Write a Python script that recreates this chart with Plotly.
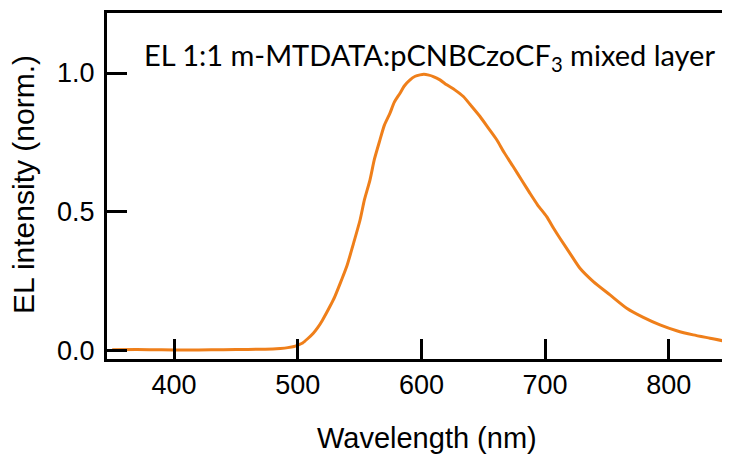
import plotly.graph_objects as go

# Wavelength (nm) and normalised EL intensity
wavelength = [350, 370, 390, 410, 430, 450, 470, 480, 486, 492, 497, 500, 504, 508, 512.6, 516,
              520, 526, 530, 535, 539.6, 545, 550.4, 554, 558.4, 562, 566.5, 570, 574.6,
              578, 582.7, 586, 590.8, 595, 598.9, 602, 606, 609.6, 615, 620.5, 627,
              633.9, 640, 647.4, 654, 660.9, 667, 674.3, 681, 687.8, 694, 701.3, 707,
              712, 720.1, 728.2, 739, 752.5, 766, 779.4, 792.9, 806.4, 819.8, 833.3,
              848, 850]
intensity = [0.003, 0.004, 0.003, 0.002, 0.003, 0.004, 0.005, 0.006, 0.008, 0.011, 0.015, 0.02,
             0.028, 0.043, 0.063, 0.082, 0.110, 0.159, 0.195, 0.250, 0.303, 0.385, 0.471,
             0.545, 0.615, 0.690, 0.760, 0.812, 0.856, 0.895, 0.928, 0.953, 0.976, 0.989,
             0.994, 0.996, 0.993, 0.988, 0.976, 0.958, 0.940, 0.916, 0.884, 0.844, 0.803,
             0.760, 0.713, 0.663, 0.615, 0.567, 0.525, 0.483, 0.440, 0.405, 0.351,
             0.297, 0.249, 0.201, 0.153, 0.120, 0.093, 0.072, 0.057, 0.045, 0.032, 0.031]

x_ticks = [400, 500, 600, 700, 800]
y_ticks = [0.0, 0.5, 1.0]
y_tick_labels = ["0.0", "0.5", "1.0"]

title_text = "EL 1:1 m-MTDATA:pCNBCzoCF<sub>3</sub> mixed layer"
x_title = "Wavelength (nm)"
y_title = "EL intensity (norm.)"

fig = go.Figure(go.Scatter(x=wavelength, y=intensity, mode="lines",
                           line=dict(color="#EF7F1A", width=3, shape="spline", smoothing=0.6),
                           showlegend=False))

axis_font = dict(family="Liberation Sans, Arial, sans-serif", size=27, color="black")

# y tick labels placed via the y scale (annotations) to get the reference's gap from the axis
y_label_annots = [dict(text=lab, xref="paper", yref="y", x=(97 - 107) / 623, y=val,
                       xanchor="right", yanchor="middle", showarrow=False, font=axis_font)
                  for val, lab in zip(y_ticks, y_tick_labels)]

# page body has an 8px margin, so the figure is sized/offset to land the plot area correctly
fig.update_layout(
    width=722, height=447,
    margin=dict(l=99, r=0, t=5, b=96),
    paper_bgcolor="white", plot_bgcolor="white",
    font=axis_font,
    xaxis=dict(range=[345.8, 849.5], tickvals=x_ticks, ticks="inside", ticklen=20,
               tickwidth=3, tickcolor="black", showline=True, linewidth=3, linecolor="black",
               mirror=True, showgrid=False, zeroline=False, tickfont=axis_font, automargin=False),
    yaxis=dict(range=[-0.03, 1.217], tickvals=y_ticks, showticklabels=False,
               ticks="inside", ticklen=20, tickwidth=3, tickcolor="black",
               showline=True, linewidth=3, linecolor="black", showgrid=False,
               zeroline=False, automargin=False),
    annotations=y_label_annots + [
        dict(text=title_text, xref="paper", yref="paper",
             x=(429 - 107) / 623, y=(359 - 56) / 346, xanchor="center", yanchor="middle",
             showarrow=False, font=dict(family="Lato, Noto Sans, sans-serif", size=29, color="black")),
        dict(text=x_title, xref="paper", yref="paper",
             x=(427 - 107) / 623, y=(359 - 438) / 346, xanchor="center", yanchor="middle",
             showarrow=False, font=dict(size=29, color="black")),
        dict(text=y_title, xref="paper", yref="paper", textangle=-90,
             x=(23 - 107) / 623, y=(359 - 185) / 346, xanchor="center", yanchor="middle",
             showarrow=False, font=dict(size=30, color="black")),
    ],
)

fig.write_html("out.html")
